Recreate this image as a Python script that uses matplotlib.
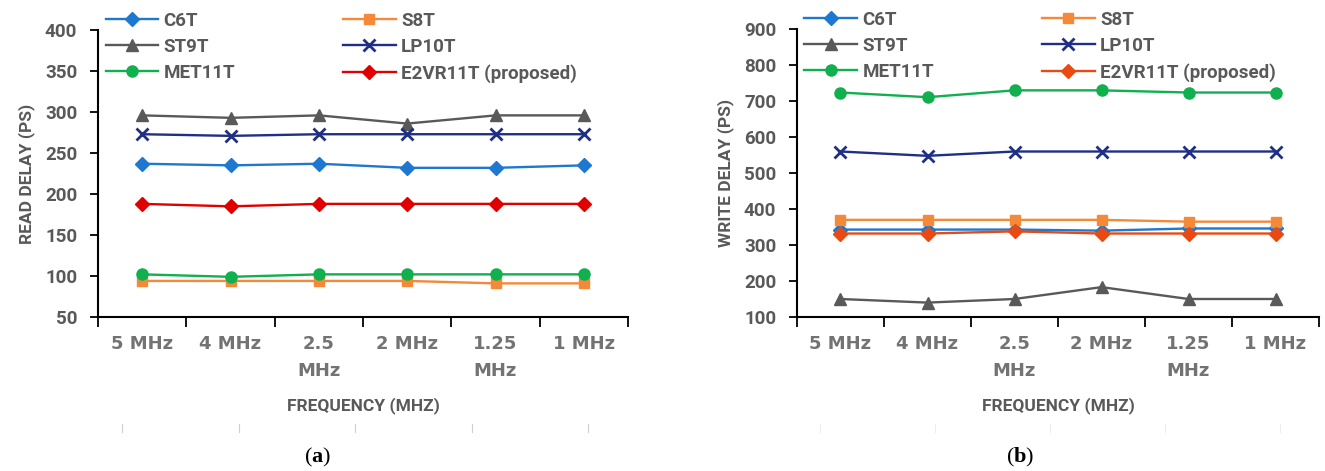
import matplotlib
matplotlib.use("Agg")
import matplotlib.pyplot as plt

freqs = ["5 MHz", "4 MHz", "2.5\nMHz", "2 MHz", "1.25\nMHz", "1 MHz"]
cells = ["C6T", "S8T", "ST9T", "LP10T", "MET11T", "E2VR11T (proposed)"]

# read delay (ps)
read_c6t = [237, 235, 237, 232, 232, 235]
read_s8t = [94, 94, 94, 94, 91, 91]
read_st9t = [296, 293, 296, 286, 296, 296]
read_lp10t = [273, 271, 273, 273, 273, 273]
read_met11t = [102, 99, 102, 102, 102, 102]
read_e2vr11t = [188, 185, 188, 188, 188, 188]

# write delay (ps)
write_c6t = [343, 343, 343, 340, 346, 346]
write_s8t = [370, 370, 370, 370, 365, 365]
write_st9t = [150, 140, 150, 183, 150, 150]
write_lp10t = [560, 548, 560, 560, 560, 560]
write_met11t = [724, 711, 730, 730, 724, 724]
write_e2vr11t = [332, 332, 338, 332, 332, 332]

TXT = "#595959"
SANS = ["Roboto", "DejaVu Sans"]

styles = {
    "C6T": dict(color="#1E78CF", marker="D", ms=7),
    "S8T": dict(color="#F5893A", marker="s", ms=7.5),
    "ST9T": dict(color="#595959", marker="^", ms=9),
    "LP10T": dict(color="#1F2F86", marker="x", ms=9, mew=2),
    "MET11T": dict(color="#11B04F", marker="o", ms=8),
    "E2VR11T (proposed)": dict(color="#E00000", marker="D", ms=7),
}

plt.rcParams["mathtext.fontset"] = "custom"
plt.rcParams["mathtext.rm"] = "Liberation Serif"
plt.rcParams["mathtext.bf"] = "Liberation Serif:bold"

fig = plt.figure(figsize=(13.25, 4.71), dpi=100)
ax_r = fig.add_axes([0.074, 0.327, 0.400, 0.609])
ax_w = fig.add_axes([0.6015, 0.327, 0.394, 0.611])


def draw(ax, series, ylim, yticks, ylabel, e2vr_color):
    x = list(range(len(freqs)))
    handles = {}
    for name, vals in zip(cells, series):
        st = dict(styles[name])
        if name.startswith("E2VR"):
            st["color"] = e2vr_color
        col = st.pop("color")
        h, = ax.plot(x, vals, color=col, mfc=col, mec=col, lw=1.7, label=name, **st)
        handles[name] = h

    ax.set_xlim(-0.5, len(freqs) - 0.5)
    ax.set_ylim(*ylim)
    ax.set_yticks(yticks)
    ax.set_xticks(x)
    ax.set_xticklabels(freqs)
    ax.set_xticks([i - 0.5 for i in range(len(freqs) + 1)], minor=True)
    ax.tick_params(axis="x", which="major", length=0, pad=13, labelsize=13, labelcolor="#737373")
    ax.tick_params(axis="x", which="minor", length=7, width=1.3, direction="out")
    ax.tick_params(axis="y", length=6, width=1.3, direction="out", pad=9, labelsize=13.5, labelcolor=TXT)
    for lab in ax.get_xticklabels():
        lab.set_fontweight("bold")
        lab.set_linespacing(1.65)
    for lab in ax.get_yticklabels():
        lab.set_family(SANS)
        lab.set_fontweight("bold")

    for s in ("top", "right"):
        ax.spines[s].set_visible(False)
    for s in ("left", "bottom"):
        ax.spines[s].set_linewidth(1.5)

    ax.set_ylabel(ylabel, family=SANS, fontweight="bold", fontsize=12.5, color=TXT, labelpad=7)
    ax.set_xlabel("FREQUENCY (MHZ)", family=SANS, fontweight="bold", fontsize=12.5, color=TXT, labelpad=12)

    order = ["C6T", "ST9T", "MET11T", "S8T", "LP10T", "E2VR11T (proposed)"]
    leg = ax.legend([handles[n] for n in order], order, ncol=2, frameon=False,
                    loc="upper left", bbox_to_anchor=(0.0, 1.09),
                    handlelength=2.8, handletextpad=0.3, columnspacing=5.75,
                    labelspacing=0.43, borderaxespad=0,
                    prop=dict(family=SANS, weight="bold", size=13.5))
    for t in leg.get_texts():
        t.set_color(TXT)


draw(ax_r, [read_c6t, read_s8t, read_st9t, read_lp10t, read_met11t, read_e2vr11t],
     (50, 400), range(50, 401, 50), "READ DELAY (PS)", "#E00000")
draw(ax_w, [write_c6t, write_s8t, write_st9t, write_lp10t, write_met11t, write_e2vr11t],
     (100, 900), range(100, 901, 100), "WRITE DELAY (PS)", "#EA4A12")

# faint tick remnants under the axis titles
for ax, alpha in ((ax_r, 0.4), (ax_w, 0.15)):
    for i in range(5):
        fx = ax.get_position().x0 + ax.get_position().width * (0.045 + i * 0.22)
        fig.add_artist(plt.Line2D([fx, fx], [0.083, 0.1], color="#888888", lw=0.8, alpha=alpha))

fig.text(0.24, 0.018, r"($\mathbf{a}$)", ha="center", family="Liberation Serif", fontsize=16)
fig.text(0.77, 0.018, r"($\mathbf{b}$)", ha="center", family="Liberation Serif", fontsize=16)

fig.savefig("out.png", dpi=100)
